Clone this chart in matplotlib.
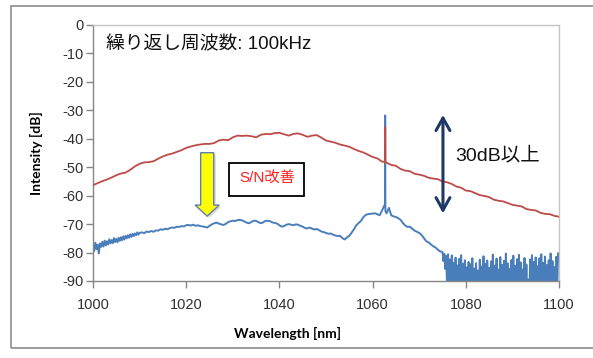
import numpy as np
import matplotlib
matplotlib.use("Agg")
import matplotlib.pyplot as plt
from matplotlib.patches import FancyArrow, Rectangle

plt.rcParams['font.family'] = ['Noto Sans CJK JP', 'DejaVu Sans']
plt.rcParams['axes.unicode_minus'] = False

# ---- axis settings ----
x_ticks = [1000, 1020, 1040, 1060, 1080, 1100]
y_ticks = [0, -10, -20, -30, -40, -50, -60, -70, -80, -90]

# ---- red trace: 1 nm grid, 1000-1100 nm ----
red_start, red_step = 1000.0, 1.0
red_db = [
    -56.3, -55.6, -54.9, -54.3, -53.6, -52.8, -52.2, -51.9, -50.9, -49.7,
    -48.8, -48.3, -48.2, -47.9, -47.0, -46.2, -45.6, -45.2, -44.6, -44.0,
    -43.2, -42.7, -42.3, -42.0, -41.8, -41.8, -41.5, -40.6, -40.3, -40.5,
    -39.5, -38.9, -39.0, -38.9, -39.1, -39.5, -38.6, -38.3, -38.4, -38.0,
    -37.9, -38.4, -38.9, -38.3, -38.1, -38.6, -39.3, -38.9, -38.7, -39.6,
    -40.6, -41.0, -41.4, -42.0, -42.4, -42.8, -43.6, -44.3, -44.8, -45.6,
    -46.4, -46.9, -48.0, -48.4, -49.2, -49.5, -50.6, -51.2, -51.4, -52.3,
    -52.6, -53.0, -53.7, -54.0, -54.2, -55.0, -55.3, -55.9, -56.8, -57.2,
    -58.2, -58.4, -59.1, -59.8, -60.1, -60.5, -61.4, -61.8, -62.0, -62.6,
    -63.2, -63.5, -63.8, -64.7, -65.0, -65.2, -66.0, -66.4, -66.5, -67.1,
    -67.4,
]
red_spike_wl = [1062.65, 1062.70, 1062.75]
red_spike_db = [-48.2, -36.0, -48.3]

# ---- blue trace ----
# noisy start, 0.25 nm grid from 1000 nm
blue_a_start, blue_a_step = 1000.0, 0.25
blue_a_db = [
    -77.0, -79.5, -76.5, -78.8, -77.2, -80.3, -76.8, -78.0, -76.2, -77.9,
    -75.8, -77.5, -76.0, -77.2, -75.3, -76.8, -75.6, -76.7, -74.9, -76.3,
    -75.2, -76.4, -74.8, -75.9, -74.6, -75.7, -74.3, -75.4, -74.1, -75.0,
    -73.9, -74.8, -73.6, -74.5, -73.4, -74.2, -73.3, -73.9, -72.9, -73.7,
    -73.1,
]
# smooth middle, 0.5 nm grid from 1010.5 nm
blue_b_start, blue_b_step = 1010.5, 0.5
blue_b_db = [
    -72.9, -73.2, -72.6, -72.8, -72.4, -72.7, -72.2, -72.3, -71.8, -72.0,
    -71.6, -71.8, -71.4, -71.2, -71.3, -70.9, -71.0, -70.7, -70.8, -70.4,
    -70.3, -70.5, -70.2, -70.6, -70.4, -70.7, -70.8, -71.0, -71.2, -70.6,
    -70.1, -69.7, -69.5, -69.8, -70.1, -70.3, -69.9, -69.3, -69.0, -68.8,
    -68.9, -68.6, -68.5, -68.7, -69.1, -69.5, -69.7, -69.2, -68.8, -68.9,
    -69.3, -69.7, -69.4, -68.9, -68.8, -69.0, -69.4, -69.6, -69.8, -70.4,
    -70.9, -70.7, -70.2, -70.0, -70.2, -70.4, -70.1, -70.2, -70.6, -70.9,
    -71.4, -71.5, -71.2, -71.6, -71.9, -71.7, -72.1, -72.6, -72.8, -73.1,
    -73.4, -73.3, -73.7, -74.0, -74.2, -74.1, -74.9, -75.4, -74.7, -74.1,
    -73.0, -71.8, -70.4, -69.6, -68.9, -67.6, -66.8, -66.5, -66.4, -66.3,
    -66.2, -66.5, -66.9, -65.3, -63.5, -66.2, -64.3, -66.9, -67.3, -67.5,
    -67.9, -68.5, -69.6, -70.5, -71.0, -70.9, -71.6, -72.3, -72.7, -73.1,
    -73.8, -74.9, -76.0, -76.4, -77.1, -77.8, -78.2, -79.0, -79.6,
]
# noise floor, 0.2 nm grid from 1075 nm
blue_c_start, blue_c_step = 1075.0, 0.2
blue_c_db = [
    -79.8, -83.0, -80.5, -85.8, -81.2, -94.0, -80.6, -96.0, -82.4, -93.0,
    -81.0, -97.0, -83.6, -95.0, -81.8, -99.0, -84.5, -94.0, -82.2, -96.0,
    -80.9, -98.0, -83.9, -93.0, -82.7, -97.0, -85.2, -95.0, -83.3, -99.0,
    -84.1, -94.0, -82.0, -96.0, -85.6, -92.0, -83.7, -98.0, -86.3, -95.0,
    -82.5, -97.0, -84.9, -93.0, -81.3, -96.0, -84.0, -99.0, -82.8, -94.0,
    -85.4, -97.0, -83.1, -95.0, -80.7, -98.0, -84.6, -93.0, -82.1, -96.0,
    -86.0, -94.0, -81.6, -99.0, -84.3, -95.0, -82.9, -97.0, -80.4, -93.0,
    -83.8, -96.0, -85.7, -98.0, -82.6, -94.0, -81.1, -97.0, -84.7, -95.0,
    -82.3, -99.0, -80.8, -93.0, -83.5, -96.0, -85.9, -94.0, -81.9, -98.0,
    -84.2, -95.0, -89.5, -97.0, -82.4, -93.0, -80.9, -96.0, -83.3, -99.0,
    -81.7, -94.0, -84.8, -97.0, -82.0, -95.0, -80.6, -98.0, -83.6, -93.0,
    -81.4, -96.0, -84.4, -94.0, -82.7, -99.0, -80.3, -95.0, -83.0, -97.0,
    -85.1, -93.0, -81.5, -96.0, -80.2, -83.0,
]
blue_spike_wl = [1062.65, 1062.70, 1062.75]
blue_spike_db = [-64.0, -31.8, -65.5]

# ---- annotations ----
title_text = "繰り返し周波数: 100kHz"
sn_text = "S/N改善"
gain_text = "30dB以上"
sn_arrow_x, sn_arrow_top, sn_arrow_tip = 1024.5, -44.9, -67.2
gain_arrow_x, gain_arrow_top, gain_arrow_bottom = 1075.1, -31.6, -66.2

mixed_font = ['Liberation Sans', 'Noto Sans CJK JP']


def grid(start, step, values):
    return start + step * np.arange(len(values))


def merged(wl_parts, db_parts):
    wl = np.concatenate([np.asarray(w, float) for w in wl_parts])
    db = np.concatenate([np.asarray(d, float) for d in db_parts])
    order = np.argsort(wl, kind="stable")
    return wl[order], db[order]


red_wl, red_vals = merged(
    [grid(red_start, red_step, red_db), red_spike_wl],
    [red_db, red_spike_db])
blue_wl, blue_vals = merged(
    [grid(blue_a_start, blue_a_step, blue_a_db),
     grid(blue_b_start, blue_b_step, blue_b_db),
     grid(blue_c_start, blue_c_step, blue_c_db),
     blue_spike_wl],
    [blue_a_db, blue_b_db, blue_c_db, blue_spike_db])

fig = plt.figure(figsize=(5.93, 3.58), dpi=100)
fig.patch.set_facecolor("white")

# outer chart frame
fig.add_artist(Rectangle((11 / 593, 1 - 348 / 358), 1.0, (348 - 6) / 358,
                         transform=fig.transFigure, fill=False,
                         edgecolor="#8C8C8C", linewidth=1.2))

ax = fig.add_axes([93 / 593, 1 - 281 / 358, (559 - 93) / 593, (281 - 25) / 358])

ax.plot(blue_wl, blue_vals, color="#4A7EBB", linewidth=1.4, zorder=2)
ax.plot(red_wl, red_vals, color="#BE4B48", linewidth=1.3, zorder=3)

ax.set_xlim(1000, 1100)
ax.set_ylim(-90, 0)
ax.set_xticks(x_ticks)
ax.set_yticks(y_ticks)

for lab in ax.get_xticklabels() + ax.get_yticklabels():
    lab.set_fontfamily("Liberation Sans")
    lab.set_fontsize(10.5)
    lab.set_color("#303030")
ax.tick_params(axis="y", direction="out", length=5, width=1, color="#868686", pad=2)
ax.tick_params(axis="x", direction="out", length=5, width=1, color="#868686", pad=7)

for side in ("left", "bottom"):
    ax.spines[side].set_color("#868686")
    ax.spines[side].set_linewidth(1.0)
for side in ("top", "right"):
    ax.spines[side].set_color("#C4C4C4")
    ax.spines[side].set_linewidth(1.0)

ax.set_xlabel("Wavelength [nm]", fontfamily="Lato", fontweight="bold", fontsize=10)
ax.set_ylabel("Intensity [dB]", fontfamily="Lato", fontweight="bold", fontsize=10)
ax.xaxis.set_label_coords(0.418, -0.18)
ax.yaxis.set_label_coords(-0.107, 0.5)

ax.text(1002.8, -7.0, title_text, family=mixed_font, fontsize=13.5,
        ha="left", va="center", color="#111111")

ax.text(1037.3, -54.2, sn_text, family=mixed_font, fontsize=11,
        ha="center", va="center", color="#FF2020",
        bbox=dict(boxstyle="square,pad=0.62", facecolor="white", edgecolor="black",
                  linewidth=1.3), zorder=5)

ax.text(1077.7, -45.7, gain_text, family=mixed_font, fontsize=14,
        ha="left", va="center", color="#111111")

# yellow block arrow with soft shadow
ax.add_patch(FancyArrow(sn_arrow_x + 0.5, sn_arrow_top - 0.6, 0, sn_arrow_tip - sn_arrow_top,
                        width=2.8, head_width=5.2, head_length=3.9,
                        length_includes_head=True, facecolor="#7F7F7F", edgecolor="none",
                        alpha=0.25, zorder=4))
ax.add_patch(FancyArrow(sn_arrow_x, sn_arrow_top, 0, sn_arrow_tip - sn_arrow_top,
                        width=2.8, head_width=5.2, head_length=3.9,
                        length_includes_head=True, facecolor="#FFFF00",
                        edgecolor="#5B7FB5", linewidth=1.0, zorder=5))

# double-headed arrow marking the suppression
ax.annotate("", xy=(gain_arrow_x, gain_arrow_top), xytext=(gain_arrow_x, gain_arrow_bottom),
            arrowprops=dict(arrowstyle="<->,head_length=0.9,head_width=0.5",
                            color="#1F3864", lw=2.2, shrinkA=0, shrinkB=0,
                            capstyle="round", joinstyle="round"),
            zorder=5)

fig.savefig("out.png", dpi=100, facecolor="white")
